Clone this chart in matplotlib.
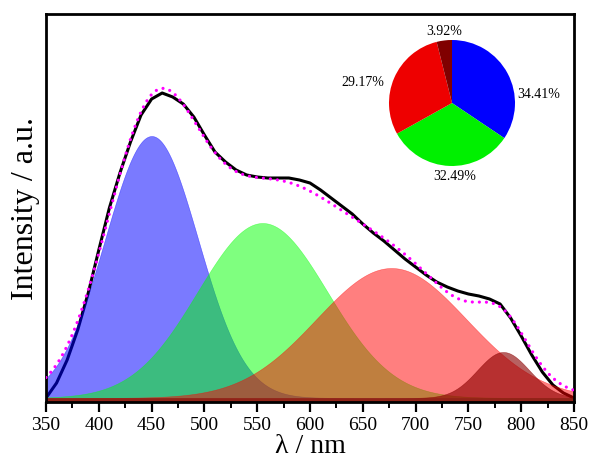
import numpy as np
import matplotlib
matplotlib.use('Agg')
import matplotlib.pyplot as plt

plt.rcParams['font.family'] = ['Liberation Serif', 'DejaVu Serif']

# measured emission spectrum (black), read every 10 nm
wl = [350, 360, 370, 380, 390, 400, 410, 420, 430, 440, 450, 460, 470, 480, 490,
      500, 510, 520, 530, 540, 550, 560, 570, 580, 590, 600, 610, 620, 630, 640,
      650, 660, 670, 680, 690, 700, 710, 720, 730, 740, 750, 760, 770, 780, 790,
      800, 810, 820, 830, 840, 850]
spec = [0.00, 0.15, 0.38, 0.68, 1.05, 1.48, 1.90, 2.25, 2.56, 2.83, 2.99, 3.05, 3.01, 2.94, 2.81,
        2.63, 2.46, 2.36, 2.28, 2.23, 2.21, 2.20, 2.20, 2.20, 2.18, 2.15, 2.08, 2.00, 1.92, 1.84,
        1.74, 1.65, 1.57, 1.48, 1.39, 1.31, 1.23, 1.16, 1.11, 1.07, 1.04, 1.02, 0.99, 0.94, 0.80,
        0.62, 0.43, 0.26, 0.13, 0.05, 0.00]

# gaussian components from the fit
centers = [450, 555, 677, 783]
sigmas = [44, 61.5, 71, 24.5]
heights = [2.62, 1.75, 1.30, 0.46]
fill_colors = ['#0000ff', '#00ff00', '#ff0000', '#8b0000']
fill_alpha = [0.52, 0.5, 0.5, 0.62]

# pie of component areas
pie_vals = [34.41, 32.49, 29.17, 3.92]
pie_labels = ['34.41%', '32.49%', '29.17%', '3.92%']
pie_colors = ['#0000ff', '#00f000', '#ee0000', '#800000']

x = np.linspace(350, 850, 501)
comps = [h * np.exp(-(x - c) ** 2 / (2 * s ** 2)) for c, s, h in zip(centers, sigmas, heights)]
fit = np.sum(comps, axis=0)

fig = plt.figure(figsize=(5.9, 4.68), dpi=100)
ax = fig.add_axes([46 / 590, 66 / 468, 528 / 590, 388 / 468])

ymin = -0.04
ax.plot(wl, spec, color='black', lw=2.2, zorder=1)
for y, col, a in zip(comps, fill_colors, fill_alpha):
    ax.fill_between(x, y, ymin - 0.05, color=col, alpha=a, lw=0.4, zorder=2)
ax.plot(x, fit, color='#ff00ff', lw=2.3, dashes=(0.01, 2.2),
        dash_capstyle='round', zorder=3)

ax.set_xlim(350, 850)
ax.set_ylim(ymin, 3.84)
ax.set_xticks(np.arange(350, 851, 50))
ax.set_xticks(np.arange(375, 850, 50), minor=True)
ax.set_yticks([])
ax.tick_params(axis='x', which='major', length=7, width=1.6, labelsize=14, pad=4)
ax.tick_params(axis='x', which='minor', length=4, width=1.4)
for sp in ax.spines.values():
    sp.set_linewidth(2.0)
ax.set_xlabel('λ / nm', fontsize=20, labelpad=0)
ax.set_ylabel('Intensity / a.u.', fontsize=23, labelpad=4)

pax = fig.add_axes([389 / 590, 302 / 468, 126 / 590, 126 / 468])
pax.pie(pie_vals, colors=pie_colors, startangle=90, counterclock=False,
        wedgeprops=dict(linewidth=0))
pax.set_xlim(-1, 1)
pax.set_ylim(-1, 1)
label_xy = [(1.37, 0.14), (0.05, -1.16), (-1.41, 0.33), (-0.13, 1.13)]
for lab, (lx, ly) in zip(pie_labels, label_xy):
    pax.text(lx, ly, lab, ha='center', va='center', fontsize=10, clip_on=False)

fig.savefig('out.png', dpi=100)
